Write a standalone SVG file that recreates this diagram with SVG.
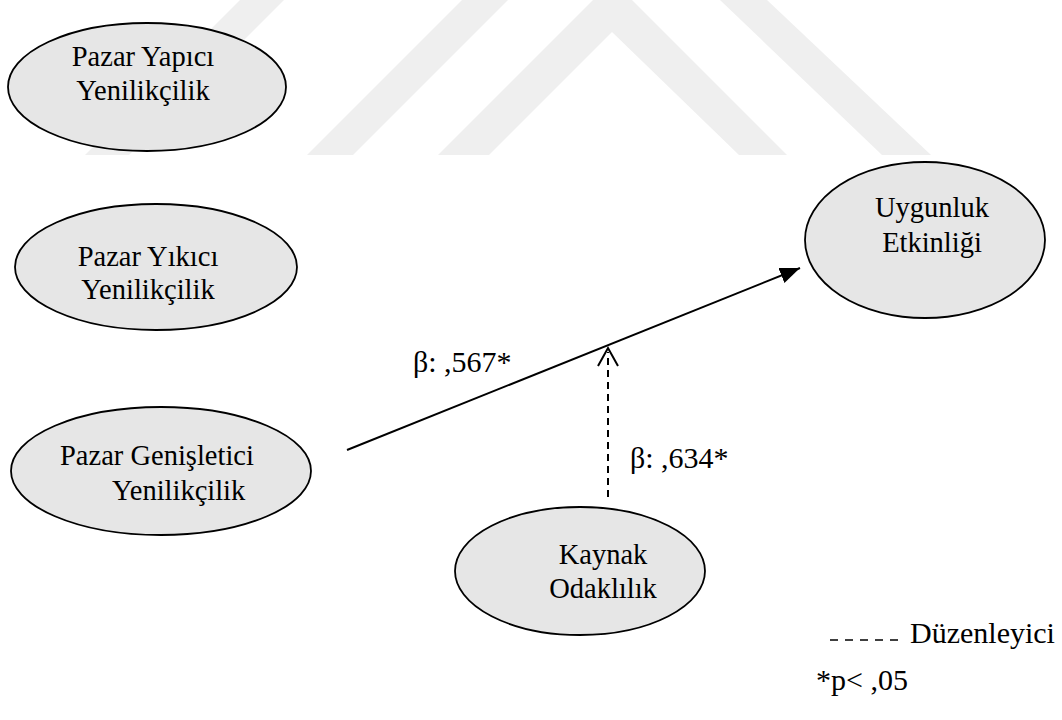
<svg xmlns="http://www.w3.org/2000/svg" width="1062" height="720" viewBox="0 0 1062 720">
  <style>
    .wm { fill: #efefef; }
    .node ellipse { fill: #e6e6e6; stroke: #000; stroke-width: 1.8; }
    .node text { font-size: 28.5px; fill: #000; }
    .lbl { font-size: 30px; fill: #000; }
    .solid { stroke: #000; stroke-width: 2; fill: none; }
    .dash { stroke: #000; stroke-width: 2; fill: none; stroke-dasharray: 7 5; }
  </style>
  <defs>
    <marker id="head" markerUnits="userSpaceOnUse" markerWidth="22" markerHeight="18" refX="20" refY="8" orient="auto">
      <path d="M0,0 L20,8 L0,16 Z" fill="#000"/>
    </marker>
  </defs>

  <rect width="1062" height="720" fill="#fff"/>

  <!-- background logo bands -->
  <g id="watermark">
    <polygon class="wm" points="240,0 284,0 129,155 85,155"/>
    <polygon class="wm" points="462,0 508,0 353,155 307,155"/>
    <polygon class="wm" points="593,0 632,0 787,155 739,155 612,32 489,155 438,155"/>
    <polygon class="wm" points="720,0 767,0 931,155 882,155"/>
  </g>

  <g font-family="Liberation Serif, DejaVu Serif, serif">
    <g id="node-pazar-yapici" class="node">
      <ellipse cx="147" cy="87" rx="139" ry="64"/>
      <text x="143" y="66" text-anchor="middle">Pazar Yapıcı</text>
      <text x="143" y="100" text-anchor="middle">Yenilikçilik</text>
    </g>

    <g id="node-pazar-yikici" class="node">
      <ellipse cx="156" cy="267" rx="141" ry="63"/>
      <text x="148" y="266" text-anchor="middle">Pazar Yıkıcı</text>
      <text x="148" y="299" text-anchor="middle">Yenilikçilik</text>
    </g>

    <g id="node-pazar-genisletici" class="node">
      <ellipse cx="161" cy="471" rx="150" ry="64"/>
      <text x="60" y="465">Pazar Genişletici</text>
      <text x="112" y="500">Yenilikçilik</text>
    </g>

    <g id="node-uygunluk" class="node">
      <ellipse cx="925" cy="240" rx="120" ry="78"/>
      <text x="932" y="217" text-anchor="middle">Uygunluk</text>
      <text x="932" y="252" text-anchor="middle">Etkinliği</text>
    </g>

    <g id="node-kaynak" class="node">
      <ellipse cx="580" cy="571" rx="125" ry="64"/>
      <text x="603" y="564" text-anchor="middle">Kaynak</text>
      <text x="603" y="598" text-anchor="middle">Odaklılık</text>
    </g>

    <g id="connectors">
      <line class="solid" x1="347" y1="450" x2="800" y2="268" marker-end="url(#head)"/>
      <line class="dash" x1="608" y1="497" x2="608" y2="352"/>
      <polyline class="solid" points="598,366 608,348 618,366"/>
    </g>

    <g id="labels">
      <text class="lbl" x="413" y="372">β: ,567*</text>
      <text class="lbl" x="630" y="468">β: ,634*</text>
    </g>

    <g id="legend">
      <line class="dash" x1="830" y1="640" x2="900" y2="640" style="stroke-dasharray: 8 7; stroke-width: 1.6"/>
      <text class="lbl" x="910" y="643">Düzenleyici</text>
      <text class="lbl" x="816" y="690">*p&lt; ,05</text>
    </g>
  </g>
</svg>
